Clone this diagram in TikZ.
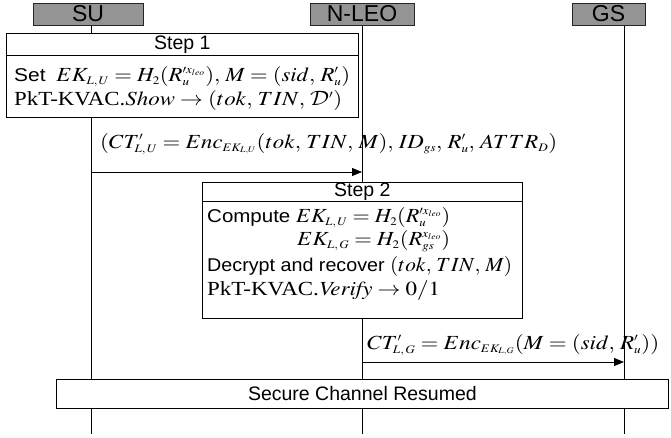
\documentclass[tikz,border=0pt]{standalone}
\usepackage{graphicx}
\usepackage{mathptmx}
\usepackage[no-math]{fontspec}
\setmainfont{Liberation Sans}
\newfontfamily\tms{Liberation Serif}
\DeclareMathAlphabet{\mathcal}{OMS}{cmsy}{m}{n}
\DeclareMathSizes{18.5}{20}{11.5}{8.5}
\usetikzlibrary{arrows.meta}
\newcommand{\cc}{,\,}
\newcommand{\fitw}[2]{\resizebox{#1}{\height}{#2}}
\newcommand{\pkt}{{\fontsize{20}{22}\selectfont\tms PkT-KVAC.}}
\begin{document}
\begin{tikzpicture}[x=1pt,y=-1pt,
  hdr/.style={draw=black!85, fill=black!42, line width=0.8pt, minimum height=22pt, inner sep=0pt, font=\fontsize{23}{23}\selectfont},
  boxs/.style={draw, fill=white, line width=0.8pt, inner sep=0pt, anchor=north west, font=\fontsize{19.5}{21}\selectfont},
  txt/.style={inner sep=0pt, anchor=base west, font=\fontsize{18.5}{21}\selectfont},
  msg/.style={line width=0.8pt, -{Triangle[length=10pt,width=8pt]}},
  life/.style={line width=0.8pt}]
\useasboundingbox (0,0) rectangle (671,437);
% lifelines
\coordinate (suT) at (91,25);  \coordinate (suB) at (91,434);
\coordinate (leT) at (362,25); \coordinate (leB) at (362,434);
\coordinate (gsT) at (624,25); \coordinate (gsB) at (624,434);
\draw[life] (suT) -- (suB);
\draw[life] (leT) -- (leB);
\draw[life] (gsT) -- (gsB);
% headers
\node[hdr, minimum width=110pt] (su) at (88,14) {SU};
\node[hdr, minimum width=104pt] (leo) at (362,14) {N-LEO};
\node[hdr, minimum width=73pt] (gs) at (608.5,14) {GS};
% Step 1
\node[boxs, minimum width=352pt, minimum height=22pt] (s1t) at (6,33) {Step 1};
\node[boxs, minimum width=352pt, minimum height=62pt] (s1b) at (6,55) {};
\node[txt] (s1l1) at (14,81) {\fitw{336pt}{Set $\;EK_{L,\,U} = H_2(R'^{x_{leo}}_u)\cc M = (sid\cc R'_u)$}};
\node[txt] (s1l2) at (14,105.5) {\fitw{328pt}{\pkt$\mathit{Show} \to (tok\cc TIN\cc \mathcal{D}')$}};
% message 1
\coordinate (m1s) at (91,172); \coordinate (m1e) at (362,172);
\draw[msg] (m1s) -- (m1e);
\node[txt] (m1l) at (100,148) {\fitw{457pt}{$(CT'_{L,\,U} = Enc_{EK_{L,U}}(tok\cc TIN\cc M)\cc ID_{gs}\cc R'_u\cc ATTR_D)$}};
% Step 2
\node[boxs, minimum width=320pt, minimum height=19pt] (s2t) at (202,182) {Step 2};
\node[boxs, minimum width=320pt, minimum height=117pt] (s2b) at (202,201) {};
\node[txt] (s2l1) at (207,222) {\fitw{243pt}{Compute $EK_{L,\,U} = H_2(R'^{x_{leo}}_u)$}};
\node[txt] (s2l2) at (297,245) {\fitw{153pt}{$EK_{L,\,G} = H_2(R^{x_{leo}}_{gs})$}};
\node[txt] (s2l3) at (207,271) {\fitw{305pt}{Decrypt and recover $(tok\cc TIN\cc M)$}};
\node[txt] (s2l4) at (207,295) {\fitw{233pt}{\pkt$\mathit{Verify} \to 0/1$}};
% message 2
\coordinate (m2s) at (362,362); \coordinate (m2e) at (624,362);
\draw[msg] (m2s) -- (m2e);
\node[txt] (m2l) at (367,349) {\fitw{292pt}{$CT'_{L,\,G} = Enc_{EK_{L,G}}(M = (sid\cc R'_u))$}};
% secure channel
\node[boxs, minimum width=612pt, minimum height=29pt] (sec) at (56,379) {Secure Channel Resumed};
\end{tikzpicture}
\end{document}
